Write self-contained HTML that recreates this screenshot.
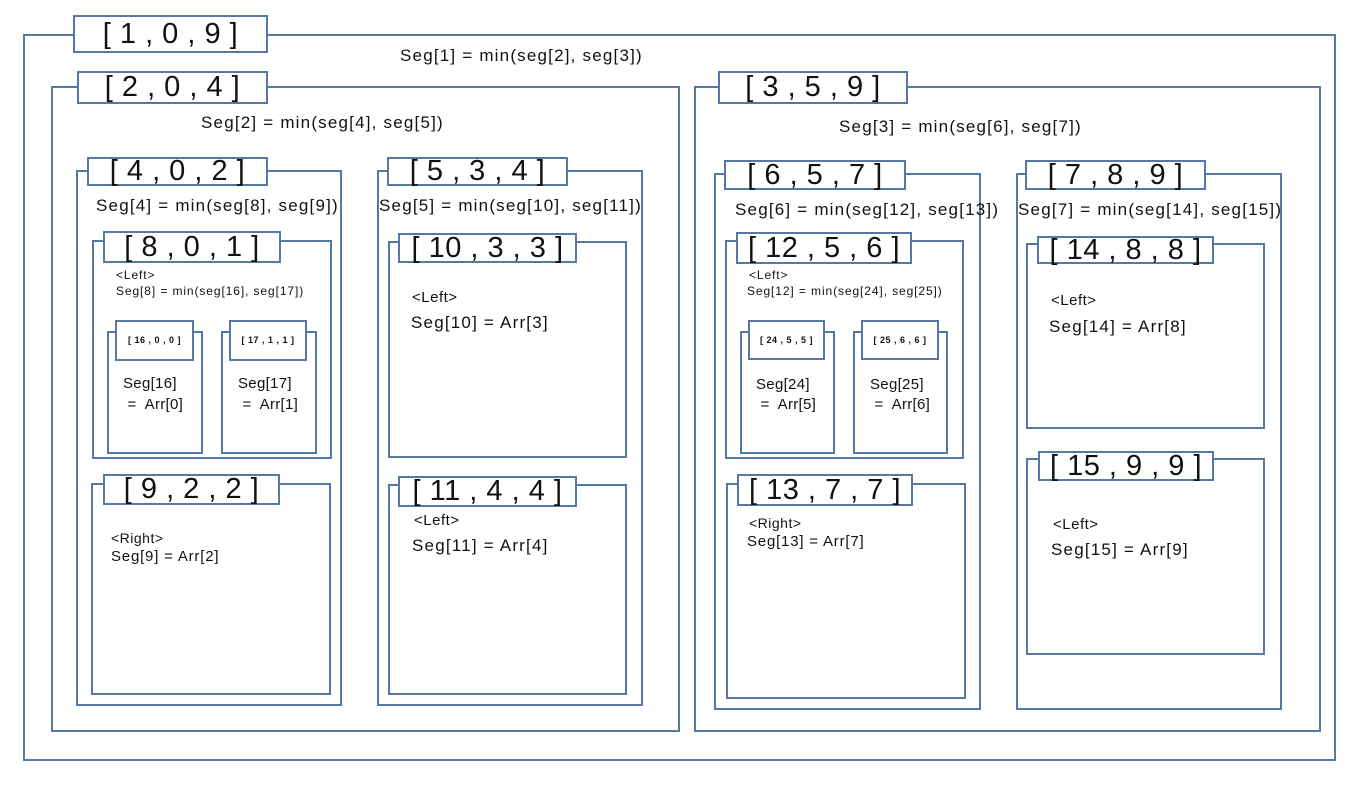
<!DOCTYPE html>
<html><head><meta charset="utf-8"><style>
body{margin:0;width:1371px;height:791px;background:#fff;position:relative;overflow:hidden;font-family:"Liberation Sans","Noto Sans CJK KR",sans-serif;color:#111}
.b{position:absolute;border:2px solid #5479a6;box-sizing:border-box;background:#fff}
.l{position:absolute;border:2px solid #5479a6;box-sizing:border-box;background:#fff;display:flex;align-items:center;justify-content:center;white-space:pre;font-size:29px;line-height:1;letter-spacing:0.5px}
.t{position:absolute;white-space:pre;font-size:17px;line-height:1;letter-spacing:1.2px}
.s{position:absolute;white-space:pre;font-size:12px;line-height:1;letter-spacing:0.9px}
.m{font-size:9px;font-weight:bold}
</style></head><body>
<div class="b" style="left:23px;top:34px;width:1313px;height:727px"></div>
<div class="l" style="left:73px;top:15px;width:195px;height:38px">[ 1 , 0 , 9 ]</div>
<div class="t" style="left:400px;top:47px">Seg[1] = min(seg[2], seg[3])</div>

<div class="b" style="left:51px;top:86px;width:629px;height:646px"></div>
<div class="l" style="left:77px;top:71px;width:191px;height:33px">[ 2 , 0 , 4 ]</div>
<div class="t" style="left:201px;top:114px">Seg[2] = min(seg[4], seg[5])</div>

<div class="b" style="left:694px;top:86px;width:627px;height:646px"></div>
<div class="l" style="left:718px;top:71px;width:190px;height:33px">[ 3 , 5 , 9 ]</div>
<div class="t" style="left:839px;top:118px">Seg[3] = min(seg[6], seg[7])</div>

<!-- box4 -->
<div class="b" style="left:76px;top:170px;width:266px;height:536px"></div>
<div class="l" style="left:87px;top:157px;width:181px;height:29px">[ 4 , 0 , 2 ]</div>
<div class="t" style="left:96px;top:197px">Seg[4] = min(seg[8], seg[9])</div>
<div class="b" style="left:92px;top:240px;width:240px;height:219px"></div>
<div class="l" style="left:103px;top:231px;width:178px;height:32px">[ 8 , 0 , 1 ]</div>
<div class="s" style="left:116px;top:269px">&lt;Left&gt;</div>
<div class="s" style="left:116px;top:285px">Seg[8] = min(seg[16], seg[17])</div>
<div class="b" style="left:107px;top:331px;width:96px;height:123px"></div>
<div class="l m" style="left:115px;top:320px;width:79px;height:41px">[ 16 , 0 , 0 ]</div>
<div class="t" style="left:123px;top:376px;font-size:15px;letter-spacing:0.3px">Seg[16]</div>
<div class="t" style="left:123px;top:397px;font-size:15px;letter-spacing:0.3px"> =  Arr[0]</div>
<div class="b" style="left:221px;top:331px;width:96px;height:123px"></div>
<div class="l m" style="left:229px;top:320px;width:78px;height:41px">[ 17 , 1 , 1 ]</div>
<div class="t" style="left:238px;top:376px;font-size:15px;letter-spacing:0.3px">Seg[17]</div>
<div class="t" style="left:238px;top:397px;font-size:15px;letter-spacing:0.3px"> =  Arr[1]</div>
<div class="b" style="left:91px;top:483px;width:240px;height:212px"></div>
<div class="l" style="left:103px;top:474px;width:177px;height:31px">[ 9 , 2 , 2 ]</div>
<div class="t" style="left:111px;top:531px;font-size:14px;letter-spacing:0.5px">&lt;Right&gt;</div>
<div class="t" style="left:111px;top:549px;font-size:15px;letter-spacing:0.8px">Seg[9] = Arr[2]</div>

<!-- box5 -->
<div class="b" style="left:377px;top:170px;width:266px;height:536px"></div>
<div class="l" style="left:387px;top:157px;width:181px;height:29px">[ 5 , 3 , 4 ]</div>
<div class="t" style="left:379px;top:197px">Seg[5] = min(seg[10], seg[11])</div>
<div class="b" style="left:388px;top:241px;width:239px;height:217px"></div>
<div class="l" style="left:398px;top:233px;width:179px;height:30px">[ 10 , 3 , 3 ]</div>
<div class="t" style="left:412px;top:290px;font-size:15px;letter-spacing:0.5px">&lt;Left&gt;</div>
<div class="t" style="left:411px;top:314px">Seg[10] = Arr[3]</div>
<div class="b" style="left:388px;top:484px;width:239px;height:211px"></div>
<div class="l" style="left:398px;top:476px;width:179px;height:31px">[ 11 , 4 , 4 ]</div>
<div class="t" style="left:414px;top:513px;font-size:15px;letter-spacing:0.5px">&lt;Left&gt;</div>
<div class="t" style="left:412px;top:537px">Seg[11] = Arr[4]</div>

<!-- box6 -->
<div class="b" style="left:714px;top:173px;width:267px;height:537px"></div>
<div class="l" style="left:724px;top:160px;width:182px;height:30px">[ 6 , 5 , 7 ]</div>
<div class="t" style="left:735px;top:201px">Seg[6] = min(seg[12], seg[13])</div>
<div class="b" style="left:725px;top:240px;width:239px;height:219px"></div>
<div class="l" style="left:736px;top:232px;width:176px;height:32px">[ 12 , 5 , 6 ]</div>
<div class="s" style="left:749px;top:269px">&lt;Left&gt;</div>
<div class="s" style="left:747px;top:285px">Seg[12] = min(seg[24], seg[25])</div>
<div class="b" style="left:740px;top:331px;width:95px;height:123px"></div>
<div class="l m" style="left:748px;top:320px;width:77px;height:40px">[ 24 , 5 , 5 ]</div>
<div class="t" style="left:756px;top:377px;font-size:15px;letter-spacing:0.3px">Seg[24]</div>
<div class="t" style="left:756px;top:397px;font-size:15px;letter-spacing:0.3px"> =  Arr[5]</div>
<div class="b" style="left:853px;top:331px;width:95px;height:123px"></div>
<div class="l m" style="left:861px;top:320px;width:78px;height:40px">[ 25 , 6 , 6 ]</div>
<div class="t" style="left:870px;top:377px;font-size:15px;letter-spacing:0.3px">Seg[25]</div>
<div class="t" style="left:870px;top:397px;font-size:15px;letter-spacing:0.3px"> =  Arr[6]</div>
<div class="b" style="left:726px;top:483px;width:240px;height:216px"></div>
<div class="l" style="left:737px;top:474px;width:176px;height:32px">[ 13 , 7 , 7 ]</div>
<div class="t" style="left:749px;top:516px;font-size:14px;letter-spacing:0.5px">&lt;Right&gt;</div>
<div class="t" style="left:747px;top:534px;font-size:15px;letter-spacing:0.8px">Seg[13] = Arr[7]</div>

<!-- box7 -->
<div class="b" style="left:1016px;top:173px;width:266px;height:537px"></div>
<div class="l" style="left:1025px;top:160px;width:181px;height:30px">[ 7 , 8 , 9 ]</div>
<div class="t" style="left:1018px;top:201px">Seg[7] = min(seg[14], seg[15])</div>
<div class="b" style="left:1026px;top:243px;width:239px;height:186px"></div>
<div class="l" style="left:1037px;top:236px;width:177px;height:28px">[ 14 , 8 , 8 ]</div>
<div class="t" style="left:1051px;top:293px;font-size:15px;letter-spacing:0.5px">&lt;Left&gt;</div>
<div class="t" style="left:1049px;top:318px">Seg[14] = Arr[8]</div>
<div class="b" style="left:1026px;top:458px;width:239px;height:197px"></div>
<div class="l" style="left:1038px;top:451px;width:176px;height:30px">[ 15 , 9 , 9 ]</div>
<div class="t" style="left:1053px;top:517px;font-size:15px;letter-spacing:0.5px">&lt;Left&gt;</div>
<div class="t" style="left:1051px;top:541px">Seg[15] = Arr[9]</div>
</body></html>
